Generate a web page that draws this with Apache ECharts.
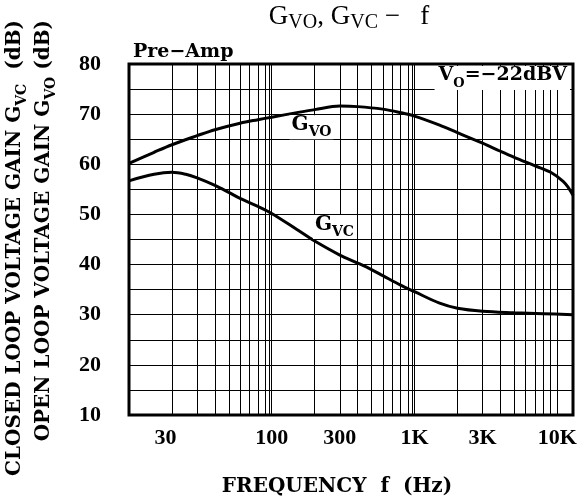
<!DOCTYPE html>
<html>
<head>
<meta charset="utf-8">
<script src="https://cdn.jsdelivr.net/npm/echarts@6/dist/echarts.min.js"></script>
<style>
html, body { margin: 0; padding: 0; background: #fff; }
#main { width: 581px; height: 501px; }
</style>
</head>
<body>
<div id="main"></div>
<script>
// open loop gain Gvo (dB) vs frequency (Hz)
var freqGvo = [10, 15, 20, 30, 40, 60, 80, 100, 150, 200, 300, 400, 600, 800, 1000, 1500, 2000, 3000, 4000, 5000, 7000, 9000, 11000, 12000, 12900];
var gainGvo = [60.2, 62.4, 63.9, 65.7, 66.9, 68.2, 68.9, 69.4, 70.3, 70.9, 71.6, 71.5, 71.0, 70.3, 69.6, 67.8, 66.3, 64.2, 62.6, 61.4, 59.7, 58.4, 56.6, 55.3, 53.8];

// closed loop gain Gvc (dB) vs frequency (Hz)
var freqGvc = [10, 15, 20, 25, 30, 40, 50, 60, 80, 100, 150, 200, 300, 400, 500, 600, 800, 1000, 1500, 2000, 3000, 5000, 8000, 12900];
var gainGvc = [56.7, 58.0, 58.4, 58.0, 57.3, 55.8, 54.4, 53.2, 51.6, 50.2, 47.0, 44.7, 41.9, 40.3, 39.0, 37.8, 35.9, 34.6, 32.3, 31.3, 30.7, 30.4, 30.2, 30.0];

// log grid lines
var gridFreqs = [20, 30, 40, 50, 60, 70, 80, 90, 200, 300, 400, 500, 600, 700, 800, 900,
                 2000, 3000, 4000, 5000, 6000, 7000, 8000, 9000, 10000];
var decadeFreqs = [96, 100, 960, 1000];

// x tick labels (the "30" sits where the original sheet printed it)
var tickFreqs = [18, 100, 300, 1000, 3000, 10000];
var tickLabels = ['30', '100', '300', '1K', '3K', '10K'];

var BOLD = '"DejaVu Serif"';
var DIGITS = '"Liberation Serif"';

function pairs(xs, ys) {
    return xs.map(function (x, i) { return [x, ys[i]]; });
}

var subRich = {
    g: { fontFamily: BOLD, fontWeight: 'bold', fontSize: 20, lineHeight: 24, verticalAlign: 'top', color: '#000' },
    s: { fontFamily: BOLD, fontWeight: 'bold', fontSize: 14, lineHeight: 14, verticalAlign: 'bottom', color: '#000' },
    t: { fontFamily: BOLD, fontWeight: 'bold', fontSize: 19, lineHeight: 24, verticalAlign: 'top', color: '#000' },
    ts: { fontFamily: BOLD, fontWeight: 'bold', fontSize: 13, lineHeight: 14, verticalAlign: 'bottom', color: '#000' },
    y: { fontFamily: BOLD, fontWeight: 'bold', fontSize: 20, lineHeight: 24, verticalAlign: 'top', color: '#000' },
    ys: { fontFamily: BOLD, fontWeight: 'bold', fontSize: 14, lineHeight: 14, verticalAlign: 'bottom', color: '#000' },
    h: { fontFamily: DIGITS, fontSize: 27, lineHeight: 30, verticalAlign: 'top', color: '#000' },
    hs: { fontFamily: DIGITS, fontSize: 20, lineHeight: 18, verticalAlign: 'bottom', color: '#000' }
};

var myChart = echarts.init(document.getElementById('main'));

var option = {
    animation: false,
    backgroundColor: '#fff',
    grid: {
        left: 129, right: 8, top: 64, bottom: 86,
        show: true, borderColor: '#000', borderWidth: 3, backgroundColor: 'transparent'
    },
    xAxis: {
        type: 'log',
        logBase: 10,
        min: 10,
        max: 12900,
        axisLine: { show: false },
        axisTick: { show: false },
        axisLabel: { show: false },
        splitLine: { show: false },
        minorSplitLine: { show: false }
    },
    yAxis: {
        type: 'value',
        min: 10,
        max: 80,
        interval: 5,
        axisLine: { show: false },
        axisTick: { show: false },
        axisLabel: {
            margin: 28,
            color: '#000',
            fontFamily: DIGITS,
            fontWeight: 'bold',
            fontSize: 22,
            formatter: function (v) { return v % 10 === 0 ? String(v) : ''; }
        },
        splitLine: { lineStyle: { color: '#000', width: 1 } }
    },
    graphic: [
        {
            type: 'text', x: 349, y: 18, z: 100,
            style: {
                text: '{h|G}{hs|VO}{h|, G}{hs|VC}{h| −   f}',
                rich: subRich, align: 'center', verticalAlign: 'middle'
            }
        },
        {
            type: 'text', x: 133, y: 52, z: 100,
            style: {
                text: 'Pre−Amp', fill: '#000',
                fontFamily: BOLD, fontWeight: 'bold', fontSize: 19,
                align: 'left', verticalAlign: 'middle'
            }
        },
        {
            type: 'text', x: 570, y: 66, z: 100,
            style: {
                text: '{t|V}{ts|O}{t|=−22dBV}', rich: subRich,
                align: 'right', verticalAlign: 'top',
                backgroundColor: '#fff', padding: [0, 3, 0, 4]
            }
        },
        {
            type: 'text', x: 17, y: 20, rotation: Math.PI / 2, z: 100,
            style: {
                text: '{y|CLOSED LOOP VOLTAGE GAIN G}{ys|VC}{y|  (dB)}', rich: subRich,
                align: 'right', verticalAlign: 'middle'
            }
        },
        {
            type: 'text', x: 46, y: 20, rotation: Math.PI / 2, z: 100,
            style: {
                text: '{y|OPEN LOOP VOLTAGE GAIN G}{ys|VO}{y| (dB)}', rich: subRich,
                align: 'right', verticalAlign: 'middle'
            }
        },
        {
            type: 'text', x: 337, y: 487, z: 100,
            style: {
                text: 'FREQUENCY  f  (Hz)', fill: '#000',
                fontFamily: BOLD, fontWeight: 'bold', fontSize: 20,
                align: 'center', verticalAlign: 'middle'
            }
        }
    ],
    series: [
        {
            // vertical log grid
            type: 'line',
            data: [],
            z: 1,
            silent: true,
            markLine: {
                silent: true,
                symbol: ['none', 'none'],
                label: { show: false },
                lineStyle: { color: '#000', width: 1, type: 'solid' },
                data: gridFreqs.concat(decadeFreqs).map(function (f) { return { xAxis: f }; })
            }
        },
        {
            // frequency tick labels
            type: 'line',
            data: [],
            z: 1,
            silent: true,
            markLine: {
                silent: true,
                symbol: ['none', 'none'],
                lineStyle: { color: 'rgba(0,0,0,0)', width: 1 },
                label: {
                    show: true,
                    position: 'start',
                    distance: 12,
                    color: '#000',
                    fontFamily: DIGITS,
                    fontWeight: 'bold',
                    fontSize: 22
                },
                data: tickFreqs.map(function (f, i) {
                    return { xAxis: f, label: { formatter: tickLabels[i] } };
                })
            }
        },
        {
            name: 'Gvo',
            type: 'line',
            smooth: 0.35,
            symbol: 'none',
            z: 3,
            lineStyle: { color: '#000', width: 3 },
            data: pairs(freqGvo, gainGvo),
            markPoint: {
                symbol: 'rect',
                symbolSize: 0,
                label: {
                    show: true,
                    position: 'inside',
                    formatter: '{g|G}{s|VO}',
                    rich: subRich,
                    backgroundColor: '#fff',
                    padding: [0, 2, 0, 2]
                },
                data: [{ coord: [190, 67.4] }]
            }
        },
        {
            name: 'Gvc',
            type: 'line',
            smooth: 0.35,
            symbol: 'none',
            z: 3,
            lineStyle: { color: '#000', width: 3 },
            data: pairs(freqGvc, gainGvc),
            markPoint: {
                symbol: 'rect',
                symbolSize: 0,
                label: {
                    show: true,
                    position: 'inside',
                    formatter: '{g|G}{s|VC}',
                    rich: subRich,
                    backgroundColor: '#fff',
                    padding: [0, 2, 0, 2]
                },
                data: [{ coord: [275, 47.5] }]
            }
        }
    ]
};

myChart.setOption(option);
window.onresize = myChart.resize;
</script>
</body>
</html>
